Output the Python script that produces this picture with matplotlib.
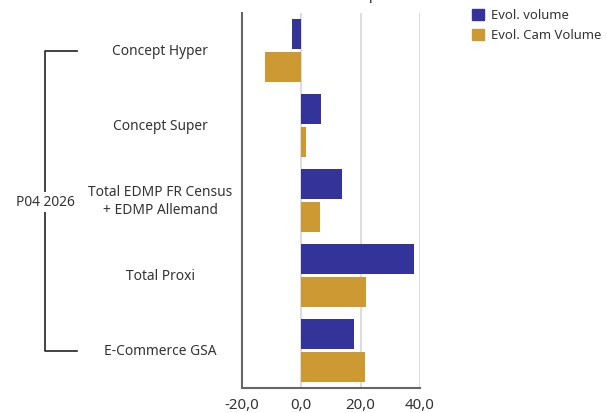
import numpy as np
import matplotlib
matplotlib.use("Agg")
import matplotlib.pyplot as plt
import matplotlib.transforms as mtransforms
from matplotlib.patches import Patch

# values
categories = ["Concept Hyper", "Concept Super", "Total EDMP FR Census\n+ EDMP Allemand",
              "Total Proxi", "E-Commerce GSA"]
evol_volume = [-3.0, 6.7, 13.7, 37.9, 17.8]
evol_cam_volume = [-12.4, 1.6, 6.4, 21.8, 21.5]
group_label = "P04 2026"
x_ticks = [-20, 0, 20, 40]

blue = "#333399"
gold = "#cc9933"
txt = "#333333"

plt.rcParams['font.family'] = ['Noto Sans', 'DejaVu Sans']
plt.rcParams['font.size'] = 9.9

fig = plt.figure(figsize=(6.07, 4.13), dpi=100)
ax = fig.add_axes([242 / 607, 25 / 413, 178 / 607, 375 / 413])

y = np.arange(len(categories))
h = 0.41
ax.barh(y - 0.22, evol_volume, height=h, color=blue, label="Evol. volume", zorder=3)
ax.barh(y + 0.22, evol_cam_volume, height=h, color=gold, label="Evol. Cam Volume", zorder=3)

ax.set_xlim(-20, 40)
ax.set_ylim(len(categories) - 0.5, -0.5)
ax.set_xticks(x_ticks)
ax.set_xticklabels([f"{v:.1f}".replace(".", ",") for v in x_ticks], color=txt, fontsize=10.8)
ax.tick_params(axis='x', length=0, pad=7)
ax.set_yticks([])
for v in x_ticks[1:]:
    ax.axvline(v, color="#dddddd", lw=1.4, zorder=1)

for s in ["top", "right"]:
    ax.spines[s].set_visible(False)
for s in ["left", "bottom"]:
    ax.spines[s].set_color("#666666")
    ax.spines[s].set_linewidth(1.5)

# category labels, placed in figure x / data y
trans = mtransforms.blended_transform_factory(fig.transFigure, ax.transData)
for yi, c in zip(y, categories):
    ax.text(160 / 607, yi + 0.01, c, transform=trans, ha='center', va='center',
            color=txt, linespacing=1.3, clip_on=False)

# bracket for the group label
bx0, bx1 = 45 / 607, 77 / 607
ax.plot([bx1, bx0, bx0, bx1], [y[0], y[0], y[-1], y[-1]], transform=trans,
        color="#222222", lw=1.2, clip_on=False)
ax.text(bx0, (y[0] + y[-1]) / 2 + 0.02, group_label, transform=trans, ha='center', va='center',
        color=txt, clip_on=False,
        bbox=dict(facecolor='white', edgecolor='none', pad=1.5))

# title is cut off at the top of the picture, only a descender remains
fig.text(369 / 607, 1.003, "p", ha='left', va='baseline', color="#222222", fontsize=10)

handles = [Patch(color=blue, label="Evol. volume"), Patch(color=gold, label="Evol. Cam Volume")]
fig.legend(handles=handles, loc='upper left', bbox_to_anchor=(467 / 607, 0.99),
           frameon=False, handlelength=0.9, handleheight=0.9, handletextpad=0.55,
           labelspacing=0.5, labelcolor=txt, borderaxespad=0, fontsize=9.4)

fig.savefig("out.png", dpi=100)
